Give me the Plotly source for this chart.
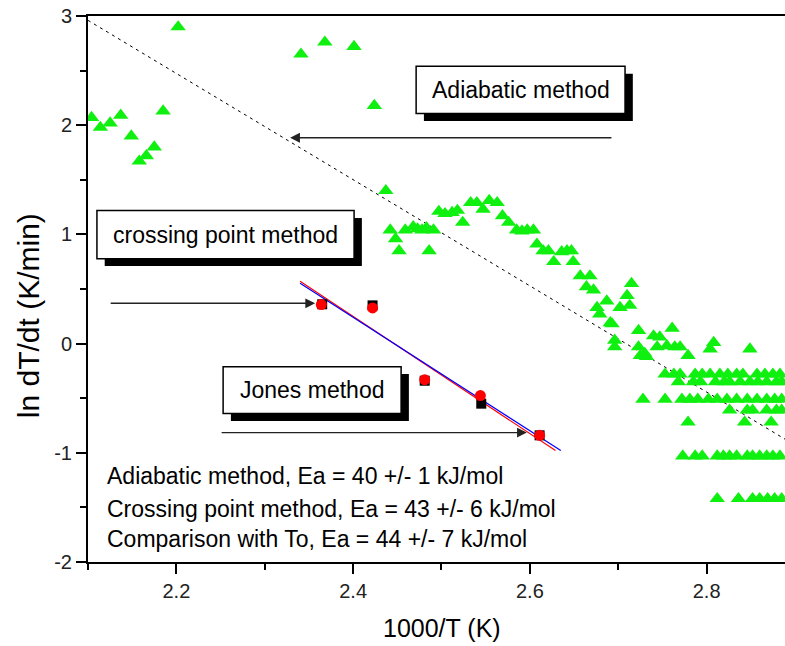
import plotly.graph_objects as go

FONT = "Liberation Sans, Arial, sans-serif"

# ---------------- data ----------------
# green triangles: adiabatic measurement, 1000/T vs ln dT/dt
green_x = [
    2.202, 2.104, 2.114, 2.125, 2.137, 2.185, 2.149, 2.175, 2.166, 2.158,
    2.341, 2.368, 2.401, 2.424,
    2.437,
    2.442, 2.448, 2.452, 2.459, 2.468, 2.478, 2.486, 2.491, 2.473, 2.483,
    2.497, 2.504, 2.512, 2.518, 2.524,
    2.533, 2.540, 2.547, 2.554, 2.563,
    2.569, 2.576, 2.585, 2.591, 2.597, 2.604,
    2.608, 2.615, 2.621, 2.627, 2.636, 2.642, 2.647, 2.649,
    2.657, 2.668, 2.664, 2.672,
    2.715, 2.710, 2.713, 2.702, 2.687, 2.676, 2.679, 2.693, 2.696, 2.696, 2.691,
    2.723, 2.761, 2.740, 2.747, 2.723, 2.730, 2.744, 2.755, 2.764, 2.770,
    2.779, 2.808, 2.804, 2.849, 2.725, 2.732,
    2.753, 2.763, 2.770, 2.787, 2.795, 2.804, 2.815, 2.824, 2.834, 2.841,
    2.857, 2.866, 2.875, 2.883,
    2.768, 2.785, 2.793, 2.810, 2.820, 2.826, 2.838, 2.849, 2.858, 2.868,
    2.879, 2.885,
    2.728, 2.753, 2.772, 2.781, 2.790, 2.802, 2.812, 2.823, 2.834, 2.846,
    2.857, 2.868, 2.877, 2.885,
    2.826, 2.846, 2.852, 2.868, 2.879, 2.885,
    2.779, 2.843, 2.873,
    2.773, 2.787, 2.795, 2.812, 2.819, 2.826, 2.834, 2.846, 2.852, 2.860,
    2.868, 2.875, 2.883,
    2.812, 2.836, 2.852, 2.860, 2.869, 2.877, 2.885,
]
green_y = [
    2.90, 2.07, 1.98, 2.02, 2.09, 2.13, 1.90, 1.80, 1.72, 1.67,
    2.65, 2.76, 2.72, 2.18,
    1.40,
    1.04, 0.96, 0.85, 1.04, 1.07, 1.04, 0.85, 1.04, 1.05, 1.06,
    1.21, 1.19, 1.20, 1.22, 1.11,
    1.29, 1.29, 1.23, 1.31, 1.29,
    1.17, 1.11, 1.04, 1.03, 1.04, 1.04,
    0.91, 0.85, 0.85, 0.75, 0.84, 0.85, 0.85, 0.75,
    0.62, 0.62, 0.52, 0.49,
    0.55, 0.44, 0.35, 0.33, 0.39, 0.33, 0.27, 0.18, 0.03, -0.03, 0.19,
    0.12, 0.14, 0.07, 0.06, -0.03, -0.09, -0.03, -0.02, -0.03, -0.03,
    -0.11, 0.01, -0.05, -0.05, -0.11, -0.12,
    -0.28, -0.28, -0.28, -0.28, -0.28, -0.28, -0.28, -0.28, -0.28, -0.28,
    -0.28, -0.28, -0.28, -0.28,
    -0.35, -0.35, -0.35, -0.35, -0.35, -0.35, -0.35, -0.35, -0.35, -0.35,
    -0.35, -0.35,
    -0.51, -0.51, -0.51, -0.51, -0.51, -0.51, -0.51, -0.51, -0.51, -0.51,
    -0.51, -0.51, -0.51, -0.51,
    -0.61, -0.61, -0.61, -0.61, -0.61, -0.61,
    -0.72, -0.72, -0.72,
    -1.03, -1.03, -1.03, -1.03, -1.03, -1.03, -1.03, -1.03, -1.03, -1.03,
    -1.03, -1.03, -1.03,
    -1.42, -1.42, -1.42, -1.42, -1.42, -1.42, -1.42,
]

# crossing point method (black squares) and Jones method (red circles)
cp_x = [2.365, 2.422, 2.481, 2.545, 2.611]
cp_y = [0.36, 0.35, -0.34, -0.55, -0.84]
jones_x = [2.364, 2.422, 2.481, 2.544, 2.611]
jones_y = [0.357, 0.327, -0.330, -0.476, -0.840]

# fitted lines
adiabatic_fit_x = [2.10, 2.90]
adiabatic_fit_y = [2.96, -0.93]
cp_fit_x = [2.340, 2.635]
cp_fit_y = [0.552, -0.980]
jones_fit_x = [2.340, 2.629]
jones_fit_y = [0.571, -0.980]

x_tick_vals = [2.2, 2.4, 2.6, 2.8]
x_tick_text = ["2.2", "2.4", "2.6", "2.8"]
y_tick_vals = [-2, -1, 0, 1, 2, 3]
y_tick_text = ["-2", "-1", "0", "1", "2", "3"]

box_labels = ["Adiabatic method", "crossing point method", "Jones method"]
result_lines = [
    "Adiabatic method, Ea = 40 +/- 1 kJ/mol",
    "Crossing point method, Ea = 43 +/- 6 kJ/mol",
    "Comparison with To, Ea = 44 +/- 7 kJ/mol",
]

# ---------------- layout constants ----------------
boxes = [  # x0, x1, y0, y1 (data units)
    (2.4713, 2.7077, 2.106, 2.539),
    (2.1101, 2.4011, 0.778, 1.218),
    (2.2529, 2.4543, -0.641, -0.211),
]
SHADOW_DX = 0.0088   # ~8 px
SHADOW_DY = 0.068    # ~7 px
arrows = [  # tip x, tip y, tail x, tail y
    (2.3287, 1.885, 2.694, 1.885),
    (2.357, 0.369, 2.124, 0.369),
    (2.5966, -0.815, 2.2495, -0.815),
]
result_x = 2.1195
result_y = [-1.209, -1.511, -1.786]

fig = go.Figure()

fig.add_trace(go.Scatter(
    x=adiabatic_fit_x, y=adiabatic_fit_y, mode="lines",
    line=dict(color="black", width=1, dash="3px,4px"), showlegend=False))

fig.add_trace(go.Scatter(
    x=green_x, y=green_y, mode="markers",
    marker=dict(symbol="triangle-up", size=13.5, color="#10f010", line=dict(width=0)),
    showlegend=False))

fig.add_trace(go.Scatter(
    x=jones_fit_x, y=jones_fit_y, mode="lines",
    line=dict(color="#ff0000", width=1.2), showlegend=False))
fig.add_trace(go.Scatter(
    x=cp_fit_x, y=cp_fit_y, mode="lines",
    line=dict(color="#0000ff", width=1.2), showlegend=False))

fig.add_trace(go.Scatter(
    x=cp_x, y=cp_y, mode="markers",
    marker=dict(symbol="square", size=10, color="black", line=dict(width=0)),
    showlegend=False))
fig.add_trace(go.Scatter(
    x=jones_x, y=jones_y, mode="markers",
    marker=dict(symbol="circle", size=11, color="#ff0000", line=dict(width=0)),
    showlegend=False))

shapes = []
annotations = []
for (x0, x1, y0, y1), label in zip(boxes, box_labels):
    shapes.append(dict(type="rect", xref="x", yref="y",
                       x0=x0 + SHADOW_DX, x1=x1 + SHADOW_DX,
                       y0=y0 - SHADOW_DY, y1=y1 - SHADOW_DY,
                       fillcolor="black", line=dict(width=0), layer="above"))
    shapes.append(dict(type="rect", xref="x", yref="y",
                       x0=x0, x1=x1, y0=y0, y1=y1,
                       fillcolor="white", line=dict(color="black", width=1.5),
                       layer="above"))
    annotations.append(dict(x=(x0 + x1) / 2, y=(y0 + y1) / 2, xref="x", yref="y",
                            text=label, showarrow=False, xanchor="center",
                            yanchor="middle",
                            font=dict(family=FONT, size=23, color="black")))

for tx, ty, sx, sy in arrows:
    annotations.append(dict(x=tx, y=ty, ax=sx, ay=sy, xref="x", yref="y",
                            axref="x", ayref="y", text="", showarrow=True,
                            arrowhead=2, arrowsize=1.4, arrowwidth=1.4,
                            arrowcolor="#222222", standoff=0, startstandoff=0))

for line, yy in zip(result_lines, result_y):
    annotations.append(dict(x=result_x, y=yy, xref="x", yref="y", text=line,
                            showarrow=False, xanchor="left", yanchor="middle",
                            font=dict(family=FONT, size=23, color="black")))

annotations.append(dict(x=0.508, y=-0.121, xref="paper", yref="paper",
                        text="1000/T (K)", showarrow=False, xanchor="center",
                        yanchor="middle",
                        font=dict(family=FONT, size=25, color="black")))
annotations.append(dict(x=-0.0861, y=0.452, xref="paper", yref="paper",
                        text="ln dT/dt (K/min)", showarrow=False, textangle=-90,
                        xanchor="center", yanchor="middle",
                        font=dict(family=FONT, size=30, color="black")))

fig.update_layout(
    width=785, height=646,
    margin=dict(l=88, r=0, t=16, b=84, pad=0),
    paper_bgcolor="white", plot_bgcolor="white",
    shapes=shapes, annotations=annotations,
    font=dict(family=FONT, color="#222222"),
)
fig.update_xaxes(
    range=[2.1, 2.8887], showgrid=False, zeroline=False,
    showline=True, linecolor="black", linewidth=2, mirror=True,
    tickmode="array", tickvals=x_tick_vals, ticktext=x_tick_text,
    ticks="outside", ticklen=10, tickwidth=2, tickcolor="black",
    tickfont=dict(family=FONT, size=20, color="#222222"),
    minor=dict(tickmode="linear", tick0=2.1, dtick=0.1, ticks="outside",
               ticklen=6, tickwidth=2, tickcolor="black", showgrid=False),
)
fig.update_yaxes(
    range=[-2, 3], showgrid=False, zeroline=False,
    showline=True, linecolor="black", linewidth=2,
    tickmode="array", tickvals=y_tick_vals, ticktext=y_tick_text,
    ticks="outside", ticklen=10, tickwidth=2, tickcolor="black",
    tickfont=dict(family=FONT, size=20, color="#222222"),
    minor=dict(tickmode="linear", tick0=0, dtick=0.5, ticks="outside",
               ticklen=6, tickwidth=2, tickcolor="black", showgrid=False),
)

fig.write_html(
    "out.html",
    config={"displayModeBar": False},
    post_script="document.body.style.margin='0';document.body.style.overflow='hidden';",
)
